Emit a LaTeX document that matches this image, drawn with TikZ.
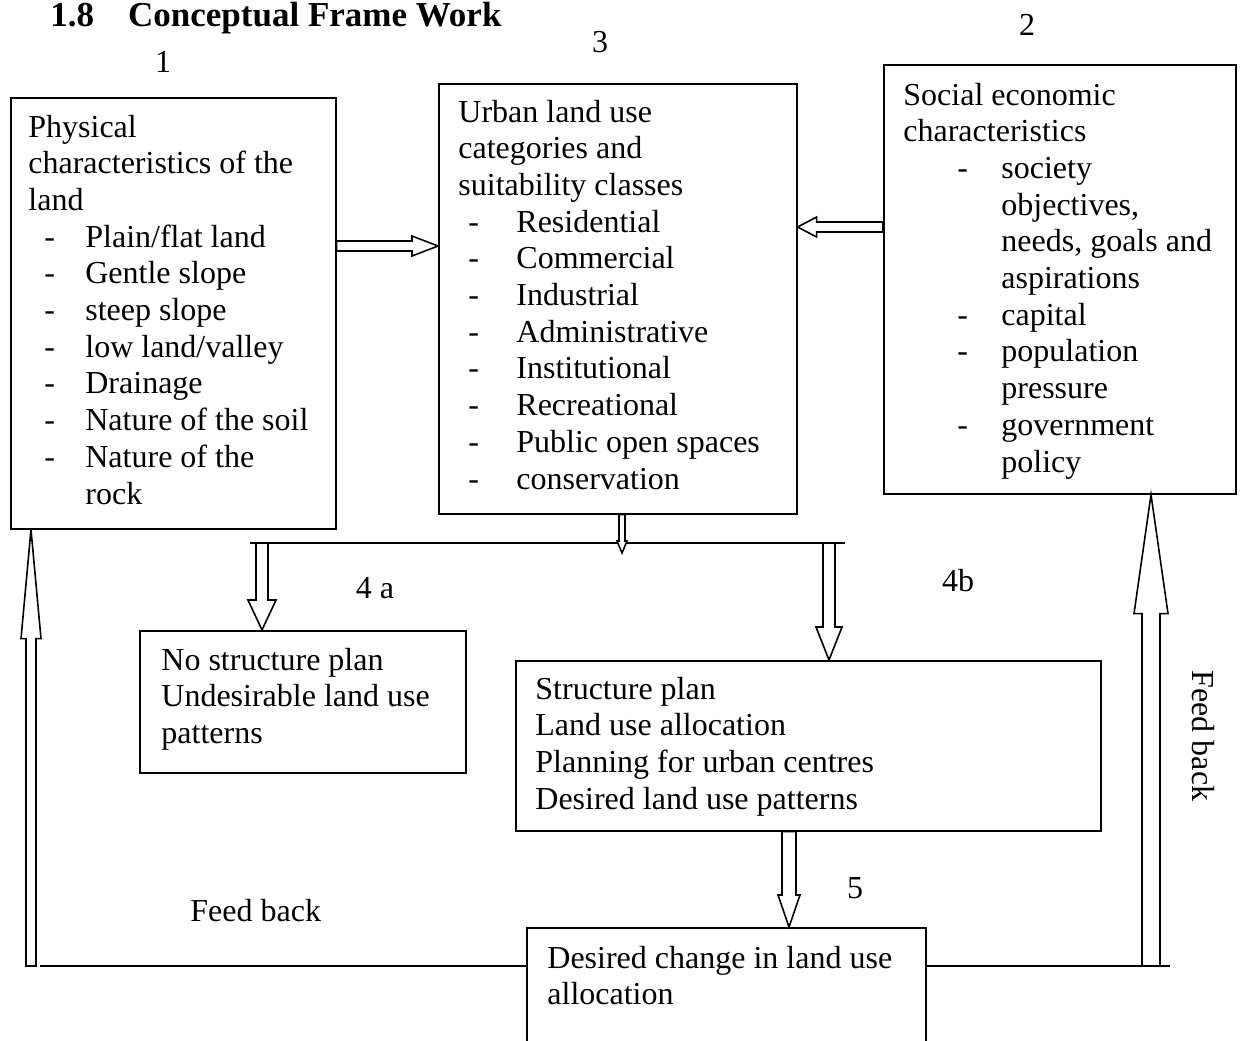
\documentclass[tikz,border=0pt]{standalone}
\usepackage{fontspec}
\setmainfont{Liberation Serif}
\usetikzlibrary{calc}
\tikzset{
  box/.style={draw, line width=0.8pt, rectangle, inner sep=0, anchor=north west},
  txt/.style={anchor=base west, inner sep=0, font=\fontsize{16}{18.35}\selectfont},
  num/.style={anchor=base, inner sep=0, font=\fontsize{16}{18.35}\selectfont},
  hollow/.style={draw, fill=white, line width=0.8pt, line join=miter},
  link/.style={draw, line width=0.8pt},
}
\newcommand\headrow[1]{\multicolumn{2}{@{}l@{}}{#1}}
% vertical hollow arrow: #1 tail, #2 tip, #3 shaft half width, #4 head half width, #5 signed head length
\newcommand\hollowV[5]{\path[hollow] let \p1=(#1), \p2=(#2) in
  ({\x2-#3},{\y1}) -- ({\x2-#3},{\y2+(#5)}) -- ({\x2-#4},{\y2+(#5)}) -- (\p2) --
  ({\x2+#4},{\y2+(#5)}) -- ({\x2+#3},{\y2+(#5)}) -- ({\x2+#3},{\y1}) -- cycle;}
% horizontal hollow arrow
\newcommand\hollowH[5]{\path[hollow] let \p1=(#1), \p2=(#2) in
  ({\x1},{\y2-#3}) -- ({\x2+(#5)},{\y2-#3}) -- ({\x2+(#5)},{\y2-#4}) -- (\p2) --
  ({\x2+(#5)},{\y2+#4}) -- ({\x2+(#5)},{\y2+#3}) -- ({\x1},{\y2+#3}) -- cycle;}
\begin{document}
\begin{tikzpicture}[x=0.5pt,y=-0.5pt]
\clip (0,0) rectangle (1245,1040);

% title
\node[anchor=base west, inner sep=0, font=\bfseries\fontsize{17.5}{20}\selectfont] (title) at (50,26)
  {1.8\hspace{17pt}Conceptual Frame Work};

% boxes
\node[box, minimum width=162.5pt, minimum height=215.5pt] (b1) at (10,97) {};
\node[box, minimum width=179pt, minimum height=215pt] (b3) at (438,83) {};
\node[box, minimum width=176pt, minimum height=214.5pt] (b2) at (883,64) {};
\node[box, minimum width=163pt, minimum height=71pt] (b4a) at (139,630) {};
\node[box, minimum width=292.5pt, minimum height=85pt] (b4b) at (515,660) {};
\node[box, minimum width=199.5pt, minimum height=72pt] (b5) at (526,927) {};

% box texts
\node[txt] (t1) at (28,137) {\begin{tabular}[t]{@{\hspace{8pt}}p{20.5pt}@{}l@{}}
\headrow{Physical}\\
\headrow{characteristics of the}\\
\headrow{land}\\
- & Plain/flat land\\
- & Gentle slope\\
- & steep slope\\
- & low land/valley\\
- & Drainage\\
- & Nature of the soil\\
- & Nature of the\\
  & rock
\end{tabular}};

\node[txt] (t3) at (458,122) {\begin{tabular}[t]{@{\hspace{5pt}}p{24pt}@{}l@{}}
\headrow{Urban land use}\\
\headrow{categories and}\\
\headrow{suitability classes}\\
- & Residential\\
- & Commercial\\
- & Industrial\\
- & Administrative\\
- & Institutional\\
- & Recreational\\
- & Public open spaces\\
- & conservation
\end{tabular}};

\node[txt] (t2) at (903,105) {\begin{tabular}[t]{@{\hspace{27pt}}p{22pt}@{}l@{}}
\headrow{Social economic}\\
\headrow{characteristics}\\
- & society\\
  & objectives,\\
  & needs, goals and\\
  & aspirations\\
- & capital\\
- & population\\
  & pressure\\
- & government\\
  & policy
\end{tabular}};

\node[txt] (t4a) at (161,670) {\begin{tabular}[t]{@{}l@{}}
No structure plan\\
Undesirable land use\\
patterns
\end{tabular}};

\node[txt] (t4b) at (535,699) {\begin{tabular}[t]{@{}l@{}}
Structure plan\\
Land use allocation\\
Planning for urban centres\\
Desired land use patterns
\end{tabular}};

\node[txt] (t5) at (547,968) {\begin{tabular}[t]{@{}l@{}}
Desired change in land use\\
allocation
\end{tabular}};

% numbers and labels
\node[num] (n1) at (163,72) {1};
\node[num] (n3) at (600,52) {3};
\node[num] (n2) at (1027,35) {2};
\node[num] (n4a) at (375,598) {4 a};
\node[num] (n4b) at (958,591) {4b};
\node[num] (n5) at (855,898) {5};
\node[txt] (fb1) at (190,921) {Feed back};
\node[inner sep=0, rotate=-90, font=\fontsize{16}{18.35}\selectfont] (fb2) at (1203,736) {Feed back};

% arrows between top boxes
\coordinate (y13) at (0,246);
\hollowH{b1.east |- y13}{b3.west |- y13}{2.5pt}{5pt}{-13pt}
\coordinate (y23) at (0,227);
\hollowH{b2.west |- y23}{b3.east |- y23}{2.5pt}{5pt}{9.5pt}

% branching bar
\coordinate (barL) at (250,543);
\coordinate (barR) at (845,543);
\draw[link] (barL) -- (barR);
\coordinate (smalltip) at (622,553);
\hollowV{smalltip |- b3.south}{smalltip}{1.5pt}{2.5pt}{6pt}
\coordinate (brL) at (262,543);
\hollowV{brL}{brL |- b4a.north}{3pt}{7pt}{15pt}
\coordinate (brR) at (829,543);
\hollowV{brR}{brR |- b4b.north}{3pt}{6.5pt}{16.5pt}

% structure plan to desired change
\coordinate (x45) at (789,0);
\hollowV{x45 |- b4b.south}{x45 |- b5.north}{3.5pt}{5.5pt}{16pt}

% feedback
\coordinate (lineL) at (40,966);
\coordinate (lineR) at (1170,966);
\draw[link] (lineL) -- (lineL -| b5.west);
\draw[link] (b5.east |- lineR) -- (lineR);
\coordinate (fbL) at (31,966);
\hollowV{fbL}{fbL |- b1.south}{2.5pt}{5pt}{-54.5pt}
\coordinate (fbR) at (1151,966);
\hollowV{fbR}{fbR |- b2.south}{4.5pt}{8.5pt}{-59.5pt}
\end{tikzpicture}
\end{document}
